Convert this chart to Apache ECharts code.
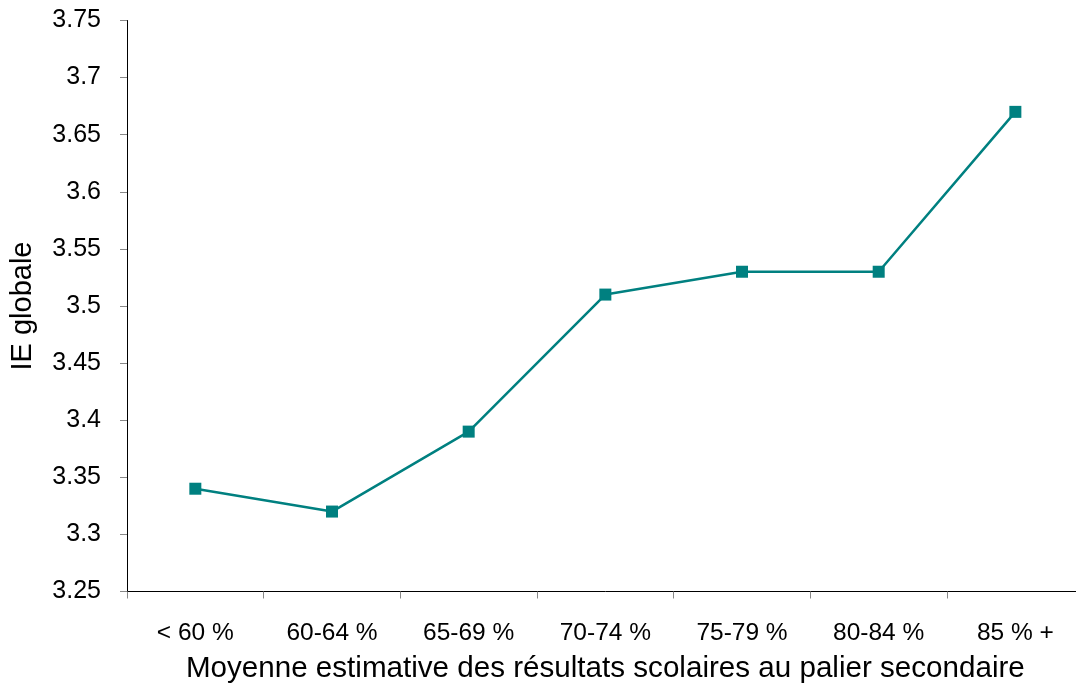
<!DOCTYPE html>
<html><head><meta charset="utf-8">
<script src="https://cdn.jsdelivr.net/npm/echarts@6/dist/echarts.min.js"></script>
<style>html,body{margin:0;padding:0;background:#fff;overflow:hidden;width:1076px;height:692px}#c{width:1090px;height:692px}</style>
</head><body><div id="c"></div>
<script>
const categories = ['< 60 %', '60-64 %', '65-69 %', '70-74 %', '75-79 %', '80-84 %', '85 % +'];
const values = [3.34, 3.32, 3.39, 3.51, 3.53, 3.53, 3.67];
const yTitle = 'IE globale';
const xTitle = 'Moyenne estimative des résultats scolaires au palier secondaire';
const chart = echarts.init(document.getElementById('c'));
const font = 'Liberation Sans, Arial, sans-serif';
chart.setOption({
  animation: false,
  grid: { left: 127, top: 20.5, width: 956.7, height: 571 },
  xAxis: {
    type: 'category', data: categories, boundaryGap: true,
    name: xTitle, nameLocation: 'middle', nameGap: 62,
    nameTextStyle: { fontFamily: font, fontSize: 29.6, color: '#000' },
    axisLine: { lineStyle: { color: '#000', width: 1 } },
    axisTick: { show: true, length: 7, lineStyle: { color: '#888' } },
    axisLabel: { fontFamily: font, fontSize: 24.5, color: '#000', margin: 29 },
    splitLine: { show: false }
  },
  yAxis: {
    type: 'value', min: 3.25, max: 3.75, interval: 0.05,
    name: yTitle, nameLocation: 'middle', nameGap: 90,
    nameTextStyle: { fontFamily: font, fontSize: 29, color: '#000' },
    axisLine: { show: true, lineStyle: { color: '#000', width: 1 } },
    axisTick: { show: true, length: 7, lineStyle: { color: '#888' } },
    axisLabel: { fontFamily: font, fontSize: 25, color: '#000', margin: 26,
      formatter: v => String(parseFloat(v.toFixed(2))) },
    splitLine: { show: false }
  },
  series: [{
    type: 'line', data: values,
    symbol: 'rect', symbolSize: 12,
    lineStyle: { color: '#008080', width: 2.5 },
    itemStyle: { color: '#008080' }
  }]
});
</script></body></html>
